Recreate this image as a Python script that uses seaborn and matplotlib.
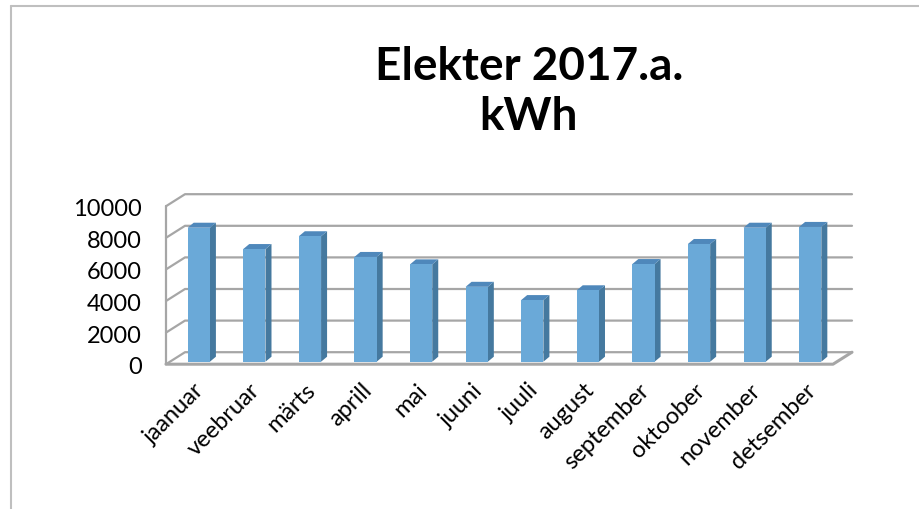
import numpy as np
import matplotlib
matplotlib.use("Agg")
import matplotlib.pyplot as plt
import matplotlib.transforms as mtransforms
from matplotlib.patches import Polygon
from matplotlib.lines import Line2D
import seaborn as sns

# data
months = ['jaanuar', 'veebruar', 'märts', 'aprill', 'mai', 'juuni',
          'juuli', 'august', 'september', 'oktoober', 'november', 'detsember']
kwh = [8480, 7130, 7940, 6630, 6160, 4740, 3900, 4520, 6180, 7450, 8480, 8530]
y_ticks = [0, 2000, 4000, 6000, 8000, 10000]
title = 'Elekter 2017.a.\nkWh'

sns.set_theme(style='white')
plt.rcParams['font.family'] = ['Lato', 'DejaVu Sans']

W, H = 919, 509
fig = plt.figure(figsize=(W / 100, H / 100), dpi=100)

# axes = plane of the bars' front faces (pixel coords from the picture)
left, right, bottom, top = 171, 838, 361.7, 203.7
ax = fig.add_axes([left / W, 1 - bottom / H, (right - left) / W, (bottom - top) / H])

front_c = '#6aa9d8'
side_c = '#45799f'
top_c = '#4f88bb'
grid_c = '#a6a6a6'

sns.barplot(x=months, y=kwh, color=front_c, width=0.4, saturation=1,
            edgecolor='none', ax=ax, zorder=3)
ax.set_xlim(-0.5, len(months) - 0.5)
ax.set_ylim(0, 10000)
for s in ax.spines.values():
    s.set_visible(False)
ax.set_xlabel('')
ax.set_ylabel('')

# pseudo 3D offsets in pixels (x right, y up)
front_off = (-5, -2.5)
back_off = (14, 9.5)
bar_d = (6, 5)

to_disp = ax.transData.transform
to_data = ax.transData.inverted().transform


def shifted(x, y, off):
    d = to_disp((x, y))
    return to_data((d[0] + off[0], d[1] + off[1]))


def draw_line(pts, **kw):
    pts = np.array(pts)
    ax.add_line(Line2D(pts[:, 0], pts[:, 1], clip_on=False, **kw))


x_lo, x_hi = -0.5, len(months) - 0.5

# back wall + left wall gridlines
for v in y_ticks:
    draw_line([shifted(x_lo, v, front_off), shifted(x_lo, v, back_off),
               shifted(x_hi, v, back_off)], color=grid_c, lw=1.6, zorder=1)
# left wall front edge
draw_line([shifted(x_lo, 0, front_off), shifted(x_lo, 10000, front_off)],
          color=grid_c, lw=1.6, zorder=1)
# floor front and right edge
draw_line([shifted(x_lo, 0, front_off), shifted(x_hi, 0, front_off),
           shifted(x_hi, 0, back_off)], color=grid_c, lw=2.2, zorder=1)

# bar sides and tops
for p in ax.patches:
    x0, w, h = p.get_x(), p.get_width(), p.get_height()
    x1 = x0 + w
    side = [(x1, 0), (x1, h), shifted(x1, h, bar_d), shifted(x1, 0, bar_d)]
    topf = [(x0, h), (x1, h), shifted(x1, h, bar_d), shifted(x0, h, bar_d)]
    ax.add_patch(Polygon(side, closed=True, fc=side_c, ec='none', zorder=2.9, clip_on=False))
    ax.add_patch(Polygon(topf, closed=True, fc=top_c, ec='none', zorder=2.9, clip_on=False))

# tick labels
ax.set_yticks(y_ticks)
ax.set_yticklabels([str(v) for v in y_ticks], fontsize=17, color='black')
ax.tick_params(axis='y', length=0, pad=21)
ax.set_xticks(range(len(months)))
ax.set_xticklabels(months, rotation=45, ha='right', rotation_mode='anchor',
                   fontsize=17, color='black')
ax.tick_params(axis='x', length=0, pad=13)
for lab in ax.get_yticklabels():
    lab.set_transform(lab.get_transform() + mtransforms.ScaledTranslation(0, -4 / 100, fig.dpi_scale_trans))
for lab in ax.get_xticklabels():
    lab.set_transform(lab.get_transform() + mtransforms.ScaledTranslation(-5 / 100, 0, fig.dpi_scale_trans))

# title
fig.text(529 / W, 1 - 92 / H, title, ha='center', va='center', fontsize=33,
         fontweight='bold', linespacing=1.22, color='black')

# chart border (left and top)
fig.add_artist(Line2D([11 / W, 11 / W], [0, 1 - 6 / H], transform=fig.transFigure, color='#bfbfbf', lw=1.5))
fig.add_artist(Line2D([11 / W, 1], [1 - 6 / H, 1 - 6 / H], transform=fig.transFigure, color='#bfbfbf', lw=1.5))

fig.savefig('out.png', dpi=100)
